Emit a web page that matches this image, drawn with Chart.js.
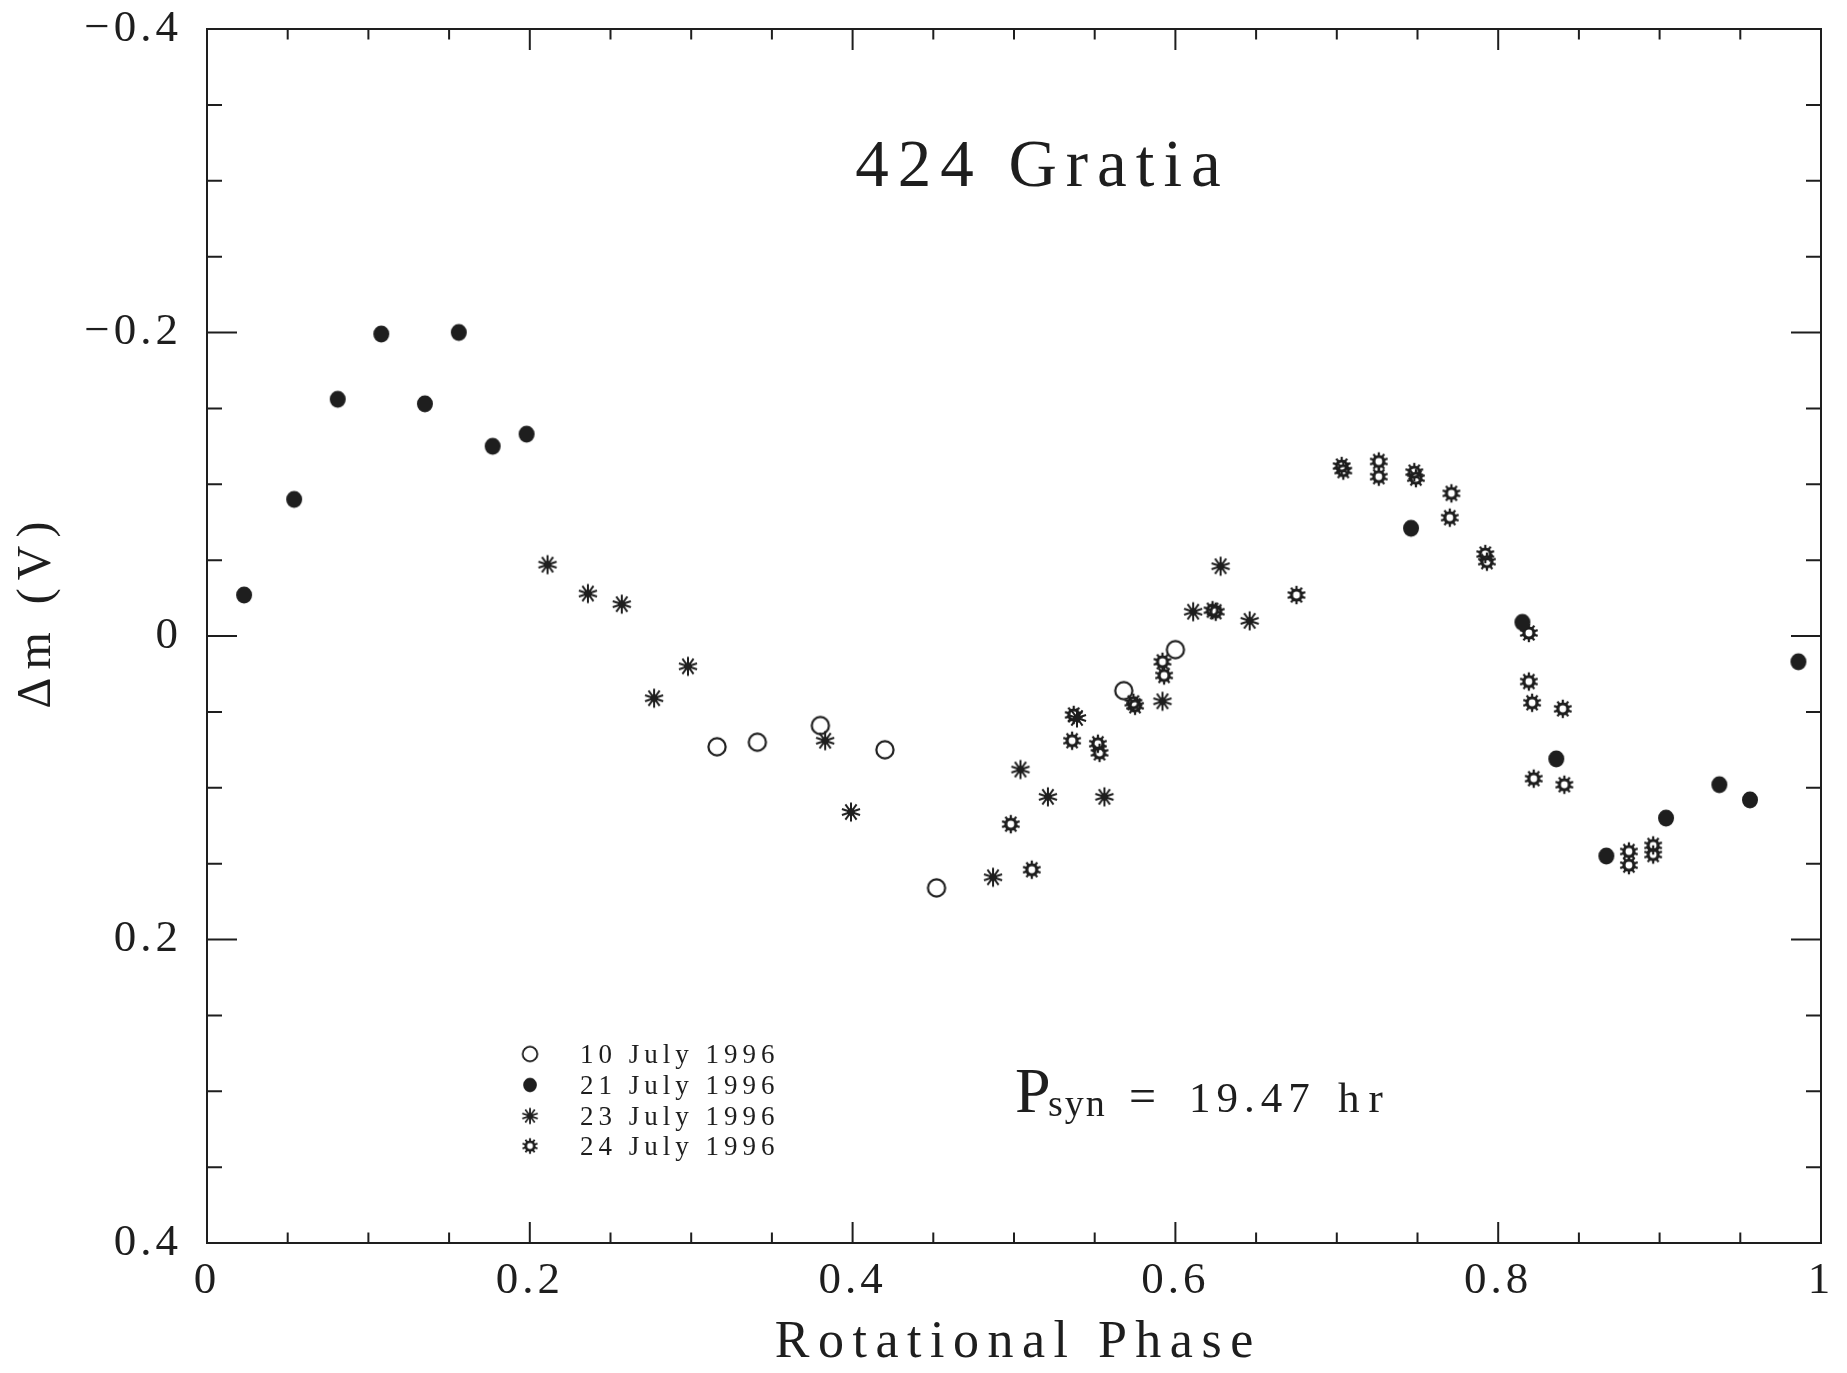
<!DOCTYPE html>
<html>
<head>
<meta charset="utf-8">
<title>424 Gratia</title>
<script src="https://cdn.jsdelivr.net/npm/chart.js@4.4.1/dist/chart.umd.min.js"></script>
<style>
  html, body { margin: 0; padding: 0; background: #fff; }
  canvas { display: block; }
</style>
</head>
<body>
<canvas id="curvaDeLuz" width="1847" height="1373"></canvas>
<script>
// Valores: fase rotacional e Δm (V) para cada noite
const fase10Jul = [0.316, 0.341, 0.380, 0.420, 0.452, 0.568, 0.600];
const dm10Jul = [0.073, 0.070, 0.059, 0.075, 0.166, 0.036, 0.009];

const fase21Jul = [0.023, 0.054, 0.081, 0.108, 0.135, 0.156, 0.177, 0.198, 0.746, 0.815, 0.836, 0.867, 0.904, 0.937, 0.956, 0.986];
const dm21Jul = [-0.027, -0.090, -0.156, -0.199, -0.153, -0.200, -0.125, -0.133, -0.071, -0.009, 0.081, 0.145, 0.120, 0.098, 0.108, 0.017];

const fase23Jul = [0.211, 0.236, 0.257, 0.277, 0.298, 0.383, 0.399, 0.487, 0.504, 0.521, 0.539, 0.556, 0.592, 0.611, 0.628, 0.646];
const dm23Jul = [-0.047, -0.028, -0.021, 0.041, 0.020, 0.069, 0.116, 0.159, 0.088, 0.106, 0.054, 0.106, 0.043, -0.016, -0.046, -0.010];

const fase24Jul = [0.498, 0.511, 0.536, 0.537, 0.552, 0.553, 0.574, 0.575, 0.592, 0.593, 0.623, 0.625, 0.675, 0.703, 0.704, 0.726, 0.726, 0.748, 0.749, 0.770, 0.771, 0.792, 0.793, 0.819, 0.819, 0.821, 0.822, 0.840, 0.841, 0.881, 0.881, 0.896, 0.896];
const dm24Jul = [0.124, 0.154, 0.069, 0.052, 0.071, 0.077, 0.044, 0.046, 0.017, 0.026, -0.017, -0.016, -0.027, -0.112, -0.109, -0.115, -0.105, -0.108, -0.104, -0.078, -0.094, -0.054, -0.049, -0.002, 0.030, 0.044, 0.094, 0.048, 0.098, 0.142, 0.151, 0.138, 0.144];

const rotulosNoites = ['10 July 1996', '21 July 1996', '23 July 1996', '24 July 1996'];

// ticks principais (com rótulo); os secundários vêm do stepSize
const ticksMaioresX = [0, 0.2, 0.4, 0.6, 0.8, 1];
const rotulosX = ['0', '0.2', '0.4', '0.6', '0.8', '1'];
const ticksMaioresY = [-0.4, -0.2, 0, 0.2, 0.4];
const rotulosY = ['\u22120.4', '\u22120.2', '0', '0.2', '0.4'];

const tituloGrafico = '424 Gratia';
const tituloX = 'Rotational Phase';
const tituloY = '\u0394m (V)';

const COR = '#1e1e1e';
const FONTE = "'Liberation Serif', 'Times New Roman', serif";

function indiceMaior(valor, lista) {
  return lista.findIndex(v => Math.abs(v - valor) < 1e-9);
}

// marcadores desenhados num canvas pequeno e usados como pointStyle
function criarMarcador(tipo) {
  const c = document.createElement('canvas');
  c.width = 26;
  c.height = 26;
  const g = c.getContext('2d');
  g.translate(13, 13);
  g.fillStyle = COR;
  g.strokeStyle = COR;
  if (tipo === 'aberto') {
    g.lineWidth = 2.2;
    g.beginPath();
    g.arc(0, 0, 8.6, 0, Math.PI * 2);
    g.stroke();
  } else if (tipo === 'cheio') {
    g.beginPath();
    g.ellipse(0, 0, 8, 8.4, 0, 0, Math.PI * 2);
    g.fill();
  } else if (tipo === 'asterisco') {
    g.lineWidth = 2;
    for (let k = 0; k < 10; k++) {
      const ang = k * Math.PI / 5 + Math.PI / 2;
      g.beginPath();
      g.moveTo(0, 0);
      g.lineTo(Math.cos(ang) * 9.5, Math.sin(ang) * 9.5);
      g.stroke();
    }
    g.beginPath();
    g.arc(0, 0, 3.8, 0, Math.PI * 2);
    g.fill();
  } else if (tipo === 'engrenagem') {
    g.beginPath();
    g.arc(0, 0, 6.6, 0, Math.PI * 2);
    g.fill();
    for (let k = 0; k < 10; k++) {
      g.save();
      g.rotate(k * Math.PI / 5);
      g.fillRect(-1.1, -9.2, 2.2, 4.5);
      g.restore();
    }
    g.globalCompositeOperation = 'destination-out';
    g.beginPath();
    g.arc(0, 0, 3.4, 0, Math.PI * 2);
    g.fill();
  }
  return c;
}

function montarPontos(fases, dms) {
  return fases.map((f, i) => ({ x: f, y: dms[i] }));
}

// texto com espaçamento entre letras (a fonte Hershey original é bem larga)
function textoEspacado(ctx, texto, x, y, tamanho, espaco, alinhamento) {
  ctx.font = tamanho + 'px ' + FONTE;
  ctx.letterSpacing = espaco + 'px';
  const largura = ctx.measureText(texto).width - espaco;
  let inicio = x;
  if (alinhamento === 'center') inicio = x - largura / 2;
  if (alinhamento === 'right') inicio = x - largura;
  ctx.textAlign = 'left';
  ctx.fillText(texto, inicio, y);
}

const pluginMoldura = {
  id: 'moldura',
  beforeDraw(chart) {
    chart.ctx.letterSpacing = '4px';
  },
  afterDraw(chart) {
    const ctx = chart.ctx;
    const a = chart.chartArea;
    const sx = chart.scales.x;
    const sy = chart.scales.y;
    ctx.save();
    ctx.strokeStyle = COR;
    ctx.fillStyle = COR;
    ctx.lineWidth = 2;
    ctx.strokeRect(a.left, a.top, a.right - a.left, a.bottom - a.top);

    // ticks para dentro nos quatro lados
    ctx.beginPath();
    sx.ticks.forEach(t => {
      const px = sx.getPixelForValue(t.value);
      if (px <= a.left + 1 || px >= a.right - 1) return;
      const len = indiceMaior(t.value, ticksMaioresX) >= 0 ? 21 : 10.5;
      ctx.moveTo(px, a.bottom);
      ctx.lineTo(px, a.bottom - len);
      ctx.moveTo(px, a.top);
      ctx.lineTo(px, a.top + len);
    });
    sy.ticks.forEach(t => {
      const py = sy.getPixelForValue(t.value);
      if (py <= a.top + 1 || py >= a.bottom - 1) return;
      const len = indiceMaior(t.value, ticksMaioresY) >= 0 ? 30 : 15;
      ctx.moveTo(a.left, py);
      ctx.lineTo(a.left + len, py);
      ctx.moveTo(a.right, py);
      ctx.lineTo(a.right - len, py);
    });
    ctx.stroke();

    ctx.textBaseline = 'alphabetic';
    // título e eixos
    textoEspacado(ctx, tituloGrafico, 1038, 186, 67, 9, 'center');
    textoEspacado(ctx, tituloX, 1014, 1357, 52, 8.5, 'center');
    ctx.save();
    ctx.translate(50, 615);
    ctx.rotate(-Math.PI / 2);
    textoEspacado(ctx, tituloY, 0, 0, 48, 8, 'center');
    ctx.restore();

    // legenda
    const linhas = [1054, 1085, 1116, 1146];
    chart.data.datasets.forEach((ds, i) => {
      const m = ds.pointStyle;
      const w = m.width * 0.85;
      const h = m.height * 0.85;
      ctx.drawImage(m, 530 - w / 2, linhas[i] - h / 2, w, h);
      textoEspacado(ctx, ds.label, 580, linhas[i] + 9, 27, 5, 'left');
    });

    // período sinódico
    textoEspacado(ctx, 'P', 1015, 1112, 64, 0, 'left');
    textoEspacado(ctx, 'syn', 1048, 1116, 38, 2, 'left');
    textoEspacado(ctx, '=', 1129, 1112, 48, 0, 'left');
    textoEspacado(ctx, '19.47', 1189, 1112, 43, 6, 'left');
    textoEspacado(ctx, 'hr', 1338, 1112, 43, 9, 'left');
    ctx.letterSpacing = '0px';
    ctx.restore();
  }
};

function desenharCurvaDeLuz() {
  console.log('--- desenharCurvaDeLuz() INICIADA ---');
  const ctx = document.getElementById('curvaDeLuz').getContext('2d');
  const marcadores = ['aberto', 'cheio', 'asterisco', 'engrenagem'].map(criarMarcador);
  const series = [
    montarPontos(fase10Jul, dm10Jul),
    montarPontos(fase21Jul, dm21Jul),
    montarPontos(fase23Jul, dm23Jul),
    montarPontos(fase24Jul, dm24Jul)
  ];

  window.graficoGratia = new Chart(ctx, {
    type: 'scatter',
    data: {
      datasets: series.map((pontos, i) => ({
        label: rotulosNoites[i],
        data: pontos,
        pointStyle: marcadores[i],
        pointRadius: 9,
        showLine: false
      }))
    },
    options: {
      responsive: false,
      devicePixelRatio: 1,
      animation: false,
      events: [],
      layout: { padding: { left: 0, top: 29, right: 26, bottom: 0 } },
      plugins: {
        legend: { display: false },
        tooltip: { enabled: false }
      },
      scales: {
        x: {
          type: 'linear',
          min: 0,
          max: 1,
          grid: { display: false, drawTicks: false },
          border: { display: false },
          ticks: {
            stepSize: 0.05,
            autoSkip: false,
            maxRotation: 0,
            minRotation: 0,
            padding: 11,
            color: COR,
            font: { family: FONTE, size: 45 },
            callback: function(valor) {
              const i = indiceMaior(valor, ticksMaioresX);
              return i >= 0 ? rotulosX[i] : '';
            }
          },
          afterFit: function(escala) {
            escala.height = 130;
            escala.paddingLeft = 0;
            escala.paddingRight = 0;
          }
        },
        y: {
          type: 'linear',
          min: -0.4,
          max: 0.4,
          reverse: true,
          grid: { display: false, drawTicks: false },
          border: { display: false },
          ticks: {
            stepSize: 0.05,
            autoSkip: false,
            padding: 25,
            color: COR,
            font: { family: FONTE, size: 45 },
            callback: function(valor) {
              const i = indiceMaior(valor, ticksMaioresY);
              return i >= 0 ? rotulosY[i] : '';
            }
          },
          afterFit: function(escala) {
            escala.width = 207;
            escala.paddingTop = 0;
            escala.paddingBottom = 0;
          }
        }
      }
    },
    plugins: [pluginMoldura]
  });
}

desenharCurvaDeLuz();
</script>
</body>
</html>
